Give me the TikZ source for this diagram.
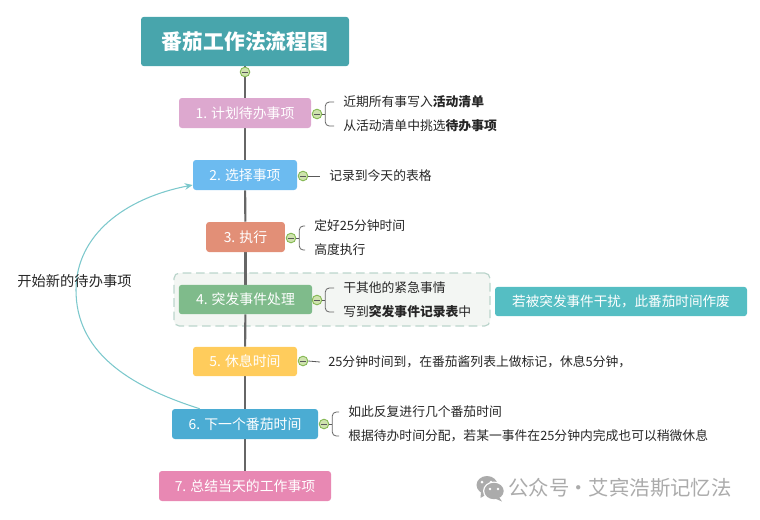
\documentclass[tikz,border=0pt]{standalone}
\usepackage{fontspec}
\setmainfont{Noto Sans CJK SC}
\usetikzlibrary{calc,arrows.meta}
\pgfdeclarelayer{groupback}
\pgfdeclarelayer{spineback}
\pgfsetlayers{groupback,spineback,main}
\definecolor{cTitle}{HTML}{48A5AC}
\definecolor{cA}{HTML}{DDA8CF}
\definecolor{cB}{HTML}{6CBBF0}
\definecolor{cC}{HTML}{E28F77}
\definecolor{cD}{HTML}{7FBB8B}
\definecolor{cE}{HTML}{FFCC5C}
\definecolor{cF}{HTML}{4BACD3}
\definecolor{cG}{HTML}{E888B3}
\definecolor{cTeal}{HTML}{55BEC3}
\definecolor{cCurve}{HTML}{7CC8CC}
\definecolor{cInk}{HTML}{262626}
\definecolor{cWm}{HTML}{ABABAB}
\definecolor{cDotFill}{HTML}{CFE3AE}
\definecolor{cDotLine}{HTML}{86B955}
\definecolor{cDash}{HTML}{BBD5CC}
\definecolor{cGroup}{HTML}{F3F6F3}
\tikzset{
  box/.style={rounded corners=2.2pt,text=white,inner sep=0pt,font=\fontsize{10.4pt}{12pt}\selectfont},
  leaf/.style={anchor=west,inner sep=0pt,text=cInk,font=\fontsize{9.6pt}{11pt}\selectfont},
  spine/.style={draw=black!60,line width=1.6pt},
  minusdot/.style={circle,draw=cDotLine,line width=.7pt,fill=cDotFill,minimum size=7.2pt,inner sep=0pt,
    path picture={
      \draw[line width=.6pt,draw=black!65] ($(path picture bounding box.center)+(-2.6pt,0)$) -- ($(path picture bounding box.center)+(2.6pt,0)$);
    }},
  stub/.style={draw=black!65,line width=.6pt},
  bracket/.style={draw=black!60,line width=.6pt,rounded corners=3pt},
  flow/.style={draw=cCurve,line width=.8pt,-{Stealth[length=6pt,width=5pt]}}
}
\begin{document}
\begin{tikzpicture}[x=0.75pt,y=-0.75pt]
\useasboundingbox (0,0) rectangle (760,519);
% main nodes
\node[box,fill=cTitle,minimum width=156pt,minimum height=37pt,font=\fontsize{15.6pt}{18pt}\selectfont\bfseries] (n0) at (245,41.5) {番茄工作法流程图};
\node[box,fill=cA,minimum width=99pt,minimum height=22.5pt] (n1) at (245,113) {1. 计划待办事项};
\node[box,fill=cB,minimum width=78pt,minimum height=22.5pt] (n2) at (245,175) {2. 选择事项};
\node[box,fill=cC,minimum width=59pt,minimum height=22.5pt] (n3) at (245.5,237) {3. 执行};
\node[box,fill=cD,minimum width=100pt,minimum height=22pt] (n4) at (245.5,299.5) {4. 突发事件处理};
\node[box,fill=cE,minimum width=78pt,minimum height=22pt] (n5) at (245,361.5) {5. 休息时间};
\node[box,fill=cF,minimum width=109.5pt,minimum height=22.5pt] (n6) at (245,424) {6. 下一个番茄时间};
\node[box,fill=cG,minimum width=129pt,minimum height=22.5pt] (n7) at (245,486) {7. 总结当天的工作事项};
\node[box,fill=cTeal,minimum width=189pt,minimum height=22pt,font=\fontsize{10.2pt}{12pt}\selectfont] (note) at (621,301.5) {若被突发事件干扰，此番茄时间作废};
% dashed group and spine, behind the boxes
\begin{pgfonlayer}{groupback}
\node[draw=cDash,dash pattern=on 6.5pt off 3.5pt,line width=.9pt,fill=cGroup,rounded corners=4pt,
  minimum width=237pt,minimum height=39.75pt,inner sep=0pt] (grp) at (332,299.5) {};
\end{pgfonlayer}
\begin{pgfonlayer}{spineback}
\draw[spine] (n0) -- (n1);
\draw[spine] (n1) -- (n2);
\draw[spine] (n2) -- (n3);
\draw[spine] (n3) -- (n4);
\draw[spine] (n4) -- (n5);
\draw[spine] (n5) -- (n6);
\draw[spine] (n6) -- (n7);
\end{pgfonlayer}
% leaves
\node[leaf] (t1a) at (343,102) {近期所有事写入\textbf{活动清单}};
\node[leaf] (t1b) at (343,126) {从活动清单中挑选\textbf{待办事项}};
\node[leaf] (t2) at (329,176) {记录到今天的表格};
\node[leaf] (t3a) at (314,226) {定好25分钟时间};
\node[leaf] (t3b) at (314,250) {高度执行};
\node[leaf] (t4a) at (343,288) {干其他的紧急事情};
\node[leaf] (t4b) at (343,312) {写到\textbf{突发事件记录表}中};
\node[leaf] (t5) at (328,362) {25分钟时间到，在番茄酱列表上做标记，休息5分钟，};
\node[leaf] (t6a) at (348,412) {如此反复进行几个番茄时间};
\node[leaf] (t6b) at (348,436) {根据待办时间分配，若某一事件在25分钟内完成也可以稍微休息};
% minus dots
\node[minusdot] (m0) at (245,72) {};
\node[minusdot] (m1) at (317,114) {};
\node[minusdot] (m2) at (303,176) {};
\node[minusdot] (m3) at (291,238) {};
\node[minusdot] (m4) at (317,300) {};
\node[minusdot] (m5) at (303,361) {};
\node[minusdot] (m6) at (324,424) {};
% brackets
\draw[bracket] ($(t1a.west)+(-9,0)$) -| ($(m1.east)+(3,0)$) |- ($(t1b.west)+(-9,0)$);
\draw[stub] (m1.east) -- ++(3,0);
\draw[bracket] ($(t3a.west)+(-9,0)$) -| ($(m3.east)+(3,0)$) |- ($(t3b.west)+(-9,0)$);
\draw[stub] (m3.east) -- ++(3,0);
\draw[bracket] ($(t4a.west)+(-9,0)$) -| ($(m4.east)+(3,0)$) |- ($(t4b.west)+(-9,0)$);
\draw[stub] (m4.east) -- ++(3,0);
\draw[bracket] ($(t6a.west)+(-9,0)$) -| ($(m6.east)+(3,0)$) |- ($(t6b.west)+(-9,0)$);
\draw[stub] (m6.east) -- ++(3,0);
\draw[stub] (m2.east) -- ($(t2.west)+(-9,0)$);
\draw[stub] (m5.east) -- ($(t5.west)+(-8,0)$);
% feedback curve
\coordinate (fs) at ($(n6.north west)+(28,0)$);
\coordinate (fe) at ($(n2.west)+(0,10)$);
\coordinate (fm) at (76,290);
\draw[flow] (fs) .. controls (125,385) and (76,350) .. (fm) .. controls (76,235) and (125,198) .. (fe);
\node[inner sep=0pt,text=cInk,font=\fontsize{10.7pt}{13pt}\selectfont] (lbl) at (74.5,281) {开始新的待办事项};
% watermark
\fill[cWm] (487,485) ellipse (10.5 and 9);
\fill[cWm] (481,492) -- (480.5,498) -- (487,494) -- cycle;
\fill[white] (482,482) circle (1.5);
\fill[white] (491,482) circle (1.5);
\fill[white] (494,491) ellipse (11 and 9.5);
\fill[cWm] (494,491) ellipse (9.7 and 8.2);
\fill[cWm] (499,497) -- (502,501.5) -- (495,498.5) -- cycle;
\fill[white] (490,489) circle (1.3);
\fill[white] (498,489) circle (1.3);
\node[anchor=west,inner sep=0pt,text=cWm,font=\fontsize{15.3pt}{17pt}\selectfont] (wm) at (508,488) {公众号\hspace{-.25em} · \hspace{-.25em}艾宾浩斯记忆法};
\end{tikzpicture}
\end{document}
